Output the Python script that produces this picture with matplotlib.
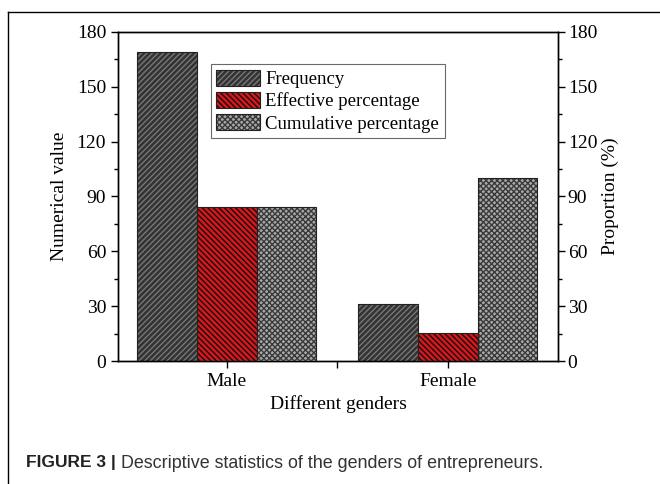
import matplotlib.pyplot as plt
import numpy as np
from matplotlib.patches import Patch
from matplotlib.lines import Line2D
from matplotlib.ticker import MultipleLocator, FixedLocator

genders = ["Male", "Female"]
frequency = [169, 31]
effective_pct = [84.5, 15.5]
cumulative_pct = [84.5, 100]
series_names = ["Frequency", "Effective percentage", "Cumulative percentage"]

plt.rcParams['font.family'] = ['Liberation Serif', 'DejaVu Serif']
plt.rcParams['hatch.linewidth'] = 1.0

fig = plt.figure(figsize=(6.6, 4.84), dpi=100)
ax = fig.add_axes([118/660, 1-361/484, 440/660, 329/484])
ax2 = ax.twinx()

x = np.arange(len(genders))
w = 0.27
# face, hatch, hatch colour
styles = [("#333333", "//////", "#777777"),
          ("#d8161c", "\\\\\\\\\\\\", "#111111"),
          ("#a9a9a9", "xxxxxx", "#3a3a3a")]
data = [frequency, effective_pct, cumulative_pct]
handles = []
for i, (vals, (fc, hatch, hc)) in enumerate(zip(data, styles)):
    target = ax if i == 0 else ax2
    pos = x + (i - 1) * w
    target.bar(pos, vals, w, color=fc, edgecolor="none", zorder=2)
    target.bar(pos, vals, w, fill=False, hatch=hatch, edgecolor=hc, linewidth=0, zorder=3)
    target.bar(pos, vals, w, fill=False, edgecolor="#222222", linewidth=0.8, zorder=4)
    handles.append((Patch(facecolor=fc, edgecolor="none"),
                    Patch(fill=False, hatch=hatch, edgecolor=hc, linewidth=0),
                    Patch(fill=False, edgecolor="#222222", linewidth=0.8)))

for a in (ax, ax2):
    a.set_ylim(0, 180)
    a.yaxis.set_major_locator(MultipleLocator(30))
    a.yaxis.set_minor_locator(MultipleLocator(15))
    a.tick_params(axis='y', which='major', length=5, width=1, labelsize=14, direction='out')
    a.tick_params(axis='y', which='minor', length=3, width=1, direction='out')
    for s in a.spines.values():
        s.set_linewidth(1)

ax.set_xlim(-0.493, 1.498)
ax.set_xticks(x)
ax.xaxis.set_minor_locator(FixedLocator([0.5]))
ax.set_xticklabels(genders, fontsize=14)
ax.tick_params(axis='x', which='both', length=5, width=1, direction='out')
ax.set_xlabel("Different genders", fontsize=14, labelpad=4)
ax.set_ylabel("Numerical value", fontsize=14, labelpad=6)
ax2.set_ylabel("Proportion (%)", fontsize=14, labelpad=3)
ax2.tick_params(axis='y', pad=2)

leg = ax.legend(handles, series_names, loc='upper left', bbox_to_anchor=(0.211, 0.903),
                fontsize=13.5, frameon=True, fancybox=False, edgecolor="#444444",
                handlelength=2.3, handleheight=0.95, labelspacing=0.2,
                handletextpad=0.3, borderpad=0.3, borderaxespad=0)
leg.get_frame().set_linewidth(0.8)
leg.set_zorder(10)

# outer frame of the figure panel
fig.add_artist(Line2D([8/660, 8/660], [0, 1-12/484], color="black", lw=1, transform=fig.transFigure))
fig.add_artist(Line2D([8/660, 1], [1-12/484, 1-12/484], color="black", lw=1, transform=fig.transFigure))

fig.text(26/660, 1-463/484, "FIGURE 3 |", fontsize=12.5, fontweight='bold',
         family=['Liberation Sans'], va='center', color="#222222")
fig.text(121/660, 1-463/484, "Descriptive statistics of the genders of entrepreneurs.",
         fontsize=12.9, family=['Liberation Sans'], va='center', color="#333333")

fig.savefig("out.png", dpi=100)
